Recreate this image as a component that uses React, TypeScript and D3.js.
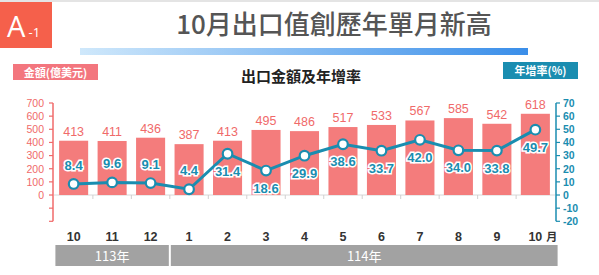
import React from 'react';
import * as d3 from 'd3';

const months = ['10', '11', '12', '1', '2', '3', '4', '5', '6', '7', '8', '9', '10'];
const exportsValue = [413, 411, 436, 387, 413, 495, 486, 517, 533, 567, 585, 542, 618];
const growthRate = [8.4, 9.6, 9.1, 4.4, 31.4, 18.6, 29.9, 38.6, 33.7, 42.0, 34.0, 33.8, 49.7];
const growthLabelSide = ['above', 'above', 'above', 'above', 'below', 'below', 'below', 'below', 'below', 'below', 'below', 'below', 'below'];
const yearGroups = [
  { label: '113年', from: 0, to: 2 },
  { label: '114年', from: 3, to: 12 },
];
const leftTicks = [0, 100, 200, 300, 400, 500, 600, 700];
const leftMinorTicks = [-100, -200];
const rightTicks = [-20, -10, 0, 10, 20, 30, 40, 50, 60, 70];

const W = 599;
const H = 275;
const BAR = '#f47c7c';
const BAR_TEXT = '#f06a6a';
const TEAL = '#1a8db0';
const NUM_FONT = '"Liberation Sans", Arial, sans-serif';
const CJK = '"Noto Sans CJK TC", "Noto Sans", sans-serif';

export default function App() {
  const x = d3.scaleBand<number>().domain(d3.range(months.length)).range([54.5, 554.5]).paddingInner(0.245).paddingOuter(0.12);
  const yL = d3.scaleLinear().domain([-200, 700]).range([221.3, 103]);
  const yR = d3.scaleLinear().domain([-20, 70]).range([221.3, 103]);
  const step = x.step();
  const cx = (i: number) => (x(i) as number) + x.bandwidth() / 2;
  const line = d3.line<number>().x((_, i) => cx(i)).y((d) => yR(d));

  return (
    <svg width={W} height={H} style={{ position: 'absolute', left: 0, top: 0, background: '#fff' }}>
      <defs>
        <linearGradient id="tg" x1="0" x2="1" y1="0" y2="0">
          <stop offset="0" stopColor="#cfe8fb" />
          <stop offset="1" stopColor="#3a8ee9" />
        </linearGradient>
      </defs>
      {/* header */}
      <rect x={0} y={0} width={599} height={2} fill="#e4e4e4" />
      <rect x={0} y={2} width={52} height={46} fill="#f5604b" />
      <text x={7} y={37} fill="#fff" fontFamily={'"Open Sans", "Liberation Sans", sans-serif'} fontSize={29}>A</text>
      <text x={28.5} y={37} fill="#fff" fontFamily={'"Open Sans", "Liberation Sans", sans-serif'} fontSize={13}>-1</text>
      <text x={334} y={34} textAnchor="middle" fill="#555" fontFamily={CJK} fontWeight={500} fontSize={26}>10月出口值創歷年單月新高</text>
      <rect x={80} y={48} width={448} height={7} fill="url(#tg)" />

      {/* axis title boxes */}
      <rect x={13} y={64} width={85} height={16} fill="#f3767e" />
      <text x={55.5} y={76.5} textAnchor="middle" fill="#fff" fontFamily={CJK} fontWeight={700} fontSize={11}>金額(億美元)</text>
      <rect x={503} y={62} width={75} height={17} fill={TEAL} />
      <text x={540.5} y={75} textAnchor="middle" fill="#fff" fontFamily={CJK} fontWeight={700} fontSize={11}>年增率(%)</text>
      <text x={301} y={82} textAnchor="middle" fill="#222" fontFamily={CJK} fontWeight={700} fontSize={15}>出口金額及年增率</text>

      {/* baseline */}
      <line x1={54} x2={555} y1={yL(0)} y2={yL(0)} stroke="#d8d8d8" strokeWidth={1} />
      {d3.range(1, months.length).map((i) => (
        <line key={'bt' + i} x1={(x(i) as number) - (step - x.bandwidth()) / 2} x2={(x(i) as number) - (step - x.bandwidth()) / 2} y1={yL(0)} y2={yL(0) + 4} stroke="#d0d0d0" />
      ))}

      {/* bars */}
      {exportsValue.map((v, i) => (
        <g key={'b' + i}>
          <rect x={x(i)} y={yL(v)} width={x.bandwidth()} height={yL(0) - yL(v)} fill={BAR} />
          <text x={cx(i)} y={yL(v) - 5} textAnchor="middle" fill={BAR_TEXT} fontFamily={NUM_FONT} fontSize={12.5}>{v}</text>
        </g>
      ))}

      {/* left axis */}
      <line x1={53} x2={53} y1={yL(700)} y2={yL(-200)} stroke={BAR_TEXT} strokeWidth={1.5} />
      {leftTicks.concat(leftMinorTicks).map((t) => (
        <line key={'lt' + t} x1={49} x2={53} y1={yL(t)} y2={yL(t)} stroke={BAR_TEXT} strokeWidth={1.2} />
      ))}
      {leftTicks.map((t) => (
        <text key={'ll' + t} x={44} y={yL(t) + 3.8} textAnchor="end" fill={BAR_TEXT} fontFamily={NUM_FONT} fontSize={10.5}>{t}</text>
      ))}

      {/* right axis */}
      <line x1={556} x2={556} y1={yR(70)} y2={yR(-20)} stroke={TEAL} strokeWidth={1.5} />
      {rightTicks.map((t) => (
        <g key={'rt' + t}>
          <line x1={556} x2={560} y1={yR(t)} y2={yR(t)} stroke={TEAL} strokeWidth={1.2} />
          <text x={563} y={yR(t) + 3.8} fill={TEAL} fontFamily={NUM_FONT} fontWeight={700} fontSize={10.5}>{t}</text>
        </g>
      ))}

      {/* line */}
      <path d={line(growthRate) as string} fill="none" stroke={TEAL} strokeWidth={3} />
      {growthRate.map((v, i) => (
        <circle key={'c' + i} cx={cx(i)} cy={yR(v)} r={4.8} fill="#fff" stroke={TEAL} strokeWidth={2.2} />
      ))}
      {growthRate.map((v, i) => (
        <text key={'gl' + i} x={cx(i)} y={growthLabelSide[i] === 'above' ? yR(v) - 14 : yR(v) + 22} textAnchor="middle" fill={TEAL} stroke="#fff" strokeWidth={3} paintOrder="stroke" fontFamily={NUM_FONT} fontWeight={700} fontSize={13}>{v.toFixed(1)}</text>
      ))}

      {/* x labels */}
      {months.map((m, i) => (
        <text key={'m' + i} x={cx(i)} y={241} textAnchor="middle" fill="#333" fontFamily={NUM_FONT} fontWeight={700} fontSize={12.5}>{m}</text>
      ))}
      <text x={cx(months.length - 1) + 11} y={241} fill="#333" fontFamily={CJK} fontWeight={700} fontSize={11}>月</text>

      {/* year groups */}
      {yearGroups.map((g, k) => {
        const x0 = (x(g.from) as number) - (step - x.bandwidth()) / 2 + 1;
        const x1 = (x(g.to) as number) + x.bandwidth() + (step - x.bandwidth()) / 2 - 1 + (k === yearGroups.length - 1 ? 4 : 0);
        return (
          <g key={'y' + k}>
            <rect x={x0} y={245} width={x1 - x0} height={21} fill="#a2a2a2" />
            <text x={(x0 + x1) / 2} y={260.5} textAnchor="middle" fill="#fff" fontFamily={CJK} fontSize={13}>{g.label}</text>
          </g>
        );
      })}
    </svg>
  );
}
